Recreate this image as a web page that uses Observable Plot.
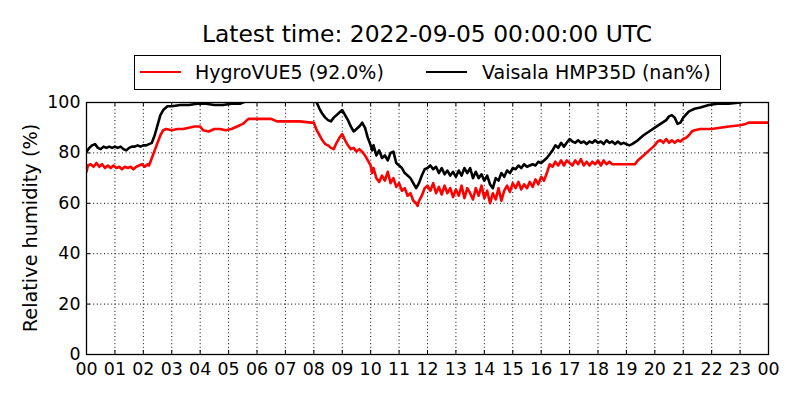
<!DOCTYPE html>
<html>
<head>
<meta charset="utf-8">
<script src="https://cdn.jsdelivr.net/npm/d3@7"></script>
<script src="https://cdn.jsdelivr.net/npm/@observablehq/plot@0.6"></script>
<style>
  body { margin: 0; background: #fff; }
  #wrap { width: 800px; height: 400px; font-family: "DejaVu Sans", sans-serif; color: #000; }
  #header { position: relative; width: 800px; height: 92px; }
  #title { position: absolute; left: 0; width: 854px; top: 19px; text-align: center; font-size: 23.4px; line-height: 30px; }
  #legend { position: absolute; left: 134px; top: 55px; width: 587px; height: 35px; border: 1px solid #000; box-sizing: border-box; font-size: 19px; }
  .sw { position: absolute; top: 15px; width: 41px; height: 0; border-top: 2.5px solid; }
  .lt { position: absolute; top: 5px; line-height: 22px; white-space: nowrap; }
  #ylabel { position: absolute; left: 30px; top: 228px; transform: translate(-50%, -50%) rotate(-90deg); font-size: 19.3px; white-space: nowrap; }
</style>
</head>
<body>
<div id="wrap" style="position:relative">
  <div id="header">
    <div id="title"></div>
    <div id="legend"></div>
  </div>
  <div id="chart"></div>
  <div id="ylabel"></div>
</div>
<script>
const titleText = "Latest time: 2022-09-05 00:00:00 UTC";
const yLabel = "Relative humidity (%)";
const seriesNames = ["HygroVUE5 (92.0%)", "Vaisala HMP35D (nan%)"];
const seriesColors = ["red", "black"];
const xTicks = [0,1,2,3,4,5,6,7,8,9,10,11,12,13,14,15,16,17,18,19,20,21,22,23,24];
const yTicks = [0,20,40,60,80,100];

// HygroVUE5 (red): hours since 00 UTC, relative humidity %
const hygroHours = [0,0.05,0.15,0.25,0.35,0.45,0.55,0.65,0.75,0.85,0.95,1.05,1.15,1.25,1.35,1.45,1.55,1.65,1.75,1.85,1.95,2.05,2.15,2.2,2.3,2.4,2.5,2.6,2.7,2.8,3.0,3.2,3.4,3.6,3.8,4.0,4.1,4.3,4.5,4.7,4.9,5.1,5.3,5.5,5.6,5.7,6.0,6.5,6.7,7.0,7.5,7.9,
  8.0,8.1,8.2,8.3,8.4,8.5,8.6,8.7,8.8,8.9,9.0,9.1,9.2,9.3,9.4,9.5,9.6,9.7,9.8,9.9,10.0,10.05,10.1,10.2,10.3,10.4,10.5,10.6,10.7,10.8,10.9,11.0,11.1,11.2,11.3,11.4,11.5,11.6,11.65,11.7,11.8,11.9,
  12.0,12.1,12.2,12.3,12.4,12.5,12.6,12.7,12.8,12.9,13.0,13.1,13.2,13.3,13.4,13.5,13.6,13.7,13.8,13.9,14.0,14.1,14.2,14.3,14.4,14.5,14.6,14.7,14.8,14.9,15.0,15.1,15.2,15.3,15.4,15.5,15.6,15.7,15.8,15.9,16.0,16.1,16.2,16.3,16.4,16.5,16.6,16.7,16.8,16.9,17.0,17.1,17.2,17.3,17.4,17.5,17.6,17.7,17.8,17.9,18.0,18.1,18.2,18.3,18.4,18.5,18.7,19.0,19.3,
  19.4,19.5,19.6,19.7,19.8,19.9,20.0,20.1,20.2,20.3,20.4,20.5,20.6,20.7,20.8,20.9,21.0,21.1,21.2,21.3,21.4,21.6,22.0,22.3,22.6,23.0,23.2,23.3,24.0];
const hygroValues = [72.5,75,75.5,74.5,76,74.5,75.5,74,75,74,75,74,74.5,73.5,74.5,74,74.5,73.5,74.5,75,75.5,74.5,75.5,75,78,81,84,87,89,89.5,89,89.5,89.5,90,90.5,90.5,89,88.5,89.5,89.5,89,89.5,90.5,91.5,92.5,93.5,93.5,93.5,92.5,92.5,92.5,92,
  92,89,87,85,83.5,83,82,81.5,84,86,87.5,85,83,81.5,82,80.5,81.5,80.5,79,77,75,72,74,70,68.5,71,69,72.5,68,70,66.5,68,65,66,63,64,61,60,59,61,63,66,
  67,65,68,64,66.5,63.5,67,64,66,62.5,65.5,63,67,62,66,64,61.5,66,63,67,62,65,60,64,61.5,66,61,65,67,64.5,68,66,68.5,65.5,67.5,66,68.5,66.5,69.5,67.5,70.5,69,72,75.5,74.5,76.5,75,77,75,77,76,75,77,75.5,77.5,75,76.5,75,76.5,75.5,77,75,77,75.5,76.5,75.5,75.5,75.5,75.5,
  77,78,79,80,81,82,83,84.5,85,84,85.5,84,85,84,85,84.5,85.5,86,87,88.5,89,89.5,89.5,90,90.5,91,91.5,92,92];

// Vaisala HMP35D (black)
const vaisalaHours = [0,0.1,0.2,0.3,0.4,0.5,0.6,0.7,0.8,0.9,1.0,1.1,1.2,1.3,1.4,1.5,1.6,1.7,1.8,1.9,2.0,2.1,2.2,2.3,2.4,2.5,2.6,2.7,2.85,3.0,3.3,3.6,3.9,4.2,4.5,4.8,5.1,5.4,5.6,5.8,7.9,
  8.0,8.1,8.2,8.3,8.4,8.5,8.6,8.7,8.8,8.9,9.0,9.1,9.2,9.3,9.4,9.5,9.6,9.7,9.8,9.9,10.0,10.05,10.1,10.2,10.3,10.4,10.5,10.6,10.7,10.8,10.9,11.0,11.1,11.2,11.3,11.4,11.5,11.6,11.7,11.8,11.9,
  12.0,12.1,12.2,12.3,12.4,12.5,12.6,12.7,12.8,12.9,13.0,13.1,13.2,13.3,13.4,13.5,13.6,13.7,13.8,13.9,14.0,14.1,14.2,14.3,14.4,14.5,14.6,14.7,14.8,14.9,15.0,15.1,15.2,15.3,15.4,15.5,15.6,15.7,15.8,15.9,16.0,16.1,16.2,16.3,16.4,16.5,16.6,16.7,16.8,16.9,
  17.0,17.1,17.2,17.3,17.4,17.5,17.6,17.7,17.8,17.9,18.0,18.1,18.2,18.3,18.4,18.5,18.6,18.7,18.8,18.9,19.0,19.1,19.2,19.4,19.6,19.8,20.0,20.2,20.4,20.5,20.6,20.7,20.8,20.9,21.0,21.2,21.4,21.6,21.9,22.2,22.6,23.0,23.3,24.0];
const vaisalaValues = [80.5,82,83,83.5,82,81.5,82.5,82,82.5,82,82.5,82,82.5,81.5,81,82,82.5,82.5,83,82.5,83,83,83.5,84,87,91,95,97,98.5,98.5,99,99,99.5,99.5,99,99,99.5,99.5,100.5,103,103,
  103,100,97.5,95.5,94,93,92.5,94,95,96,97,95,93,90.5,88.5,89.5,90.5,92,90,86,83,81,83,79,81,78,79,77,80,80.5,76,75,74,72,71,70,68,66,68,71,73.5,
  74,75,73.5,74.5,72,74,71.5,73,71,72.5,70.5,73,71,74,72,74,70,72.5,70,71.5,69,71,67.5,66,70,69,72,70.5,73,72,74,73.5,75,74,75.5,74.5,75,75.5,75,76.5,76,77,78,79.5,81,83,82,84,82.5,84,
  85.5,84.5,84,85,84,84.5,83.5,84.5,84,85,84,84.5,83.5,85,84,84.5,83.5,84.5,83.5,84,83.5,83,83.5,85,87,88.5,90,91.5,93,94.5,95,94,91.5,92,94,96.5,97.5,98,99,99.5,99.5,100,101,102];

const hygro = hygroHours.map((h, i) => ({h, v: hygroValues[i]}));
const vaisala = vaisalaHours.map((h, i) => ({h, v: vaisalaValues[i]}));

document.getElementById("title").textContent = titleText;
document.getElementById("ylabel").textContent = yLabel;

const legend = document.getElementById("legend");
const swX = [5, 291], txX = [60, 347];
seriesNames.forEach((name, i) => {
  const sw = document.createElement("div");
  sw.className = "sw"; sw.style.left = swX[i] + "px"; sw.style.borderColor = seriesColors[i];
  legend.appendChild(sw);
  const t = document.createElement("div");
  t.className = "lt"; t.style.left = txX[i] + "px"; t.textContent = name;
  legend.appendChild(t);
});

const fmt = d => String(d % 24).padStart(2, "0");
const innerTicks = xTicks.slice(1, -1);
const innerY = yTicks.slice(1, -1);

const chart = Plot.plot({
  width: 800, height: 308,
  marginTop: 10, marginBottom: 46, marginLeft: 86, marginRight: 32,
  style: {fontFamily: "DejaVu Sans, sans-serif", fontSize: "17.4px", color: "black", background: "white", overflow: "visible"},
  x: {domain: [0, 24]},
  y: {domain: [0, 100]},
  marks: [
    Plot.gridX(innerTicks, {stroke: "black", strokeOpacity: 1, strokeWidth: 1, strokeDasharray: "1,2.6"}),
    Plot.gridY(innerY, {stroke: "black", strokeOpacity: 1, strokeWidth: 1, strokeDasharray: "1,2.6"}),
    Plot.tickX(innerTicks, {x: d => d, stroke: "black", strokeWidth: 1, insetTop: 248}),
    Plot.tickX(innerTicks, {x: d => d, stroke: "black", strokeWidth: 1, insetBottom: 248}),
    Plot.tickY(innerY, {y: d => d, stroke: "black", strokeWidth: 1, insetRight: 678}),
    Plot.tickY(innerY, {y: d => d, stroke: "black", strokeWidth: 1, insetLeft: 678}),
    Plot.line(hygro, {x: "h", y: "v", stroke: seriesColors[0], strokeWidth: 2.6, clip: true}),
    Plot.line(vaisala, {x: "h", y: "v", stroke: seriesColors[1], strokeWidth: 2.6, clip: true}),
    Plot.frame({stroke: "black", strokeWidth: 1.3}),
    Plot.axisX(xTicks, {tickSize: 0, tickPadding: 8, tickFormat: fmt, label: null}),
    Plot.axisY(yTicks, {tickSize: 0, tickPadding: 6, label: null})
  ]
});
document.getElementById("chart").appendChild(chart);
</script>
</body>
</html>
